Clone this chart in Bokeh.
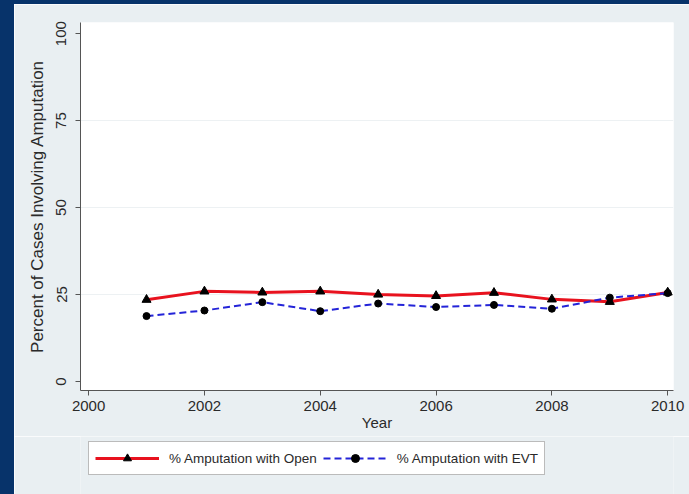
from bokeh.plotting import figure
from bokeh.models import (ColumnDataSource, Legend, LegendItem, Range1d,
                          FixedTicker, Spacer)
from bokeh.layouts import column, row
from bokeh.embed import file_html
from bokeh.resources import INLINE

# Yearly share of cases that involved amputation, by repair type
years = [2001, 2002, 2003, 2004, 2005, 2006, 2007, 2008, 2009, 2010]
pct_open = [23.5, 25.9, 25.6, 25.9, 25.0, 24.6, 25.5, 23.6, 22.9, 25.6]
pct_evt = [18.8, 20.4, 22.8, 20.2, 22.4, 21.4, 22.0, 20.9, 24.1, 25.4]

x_ticks = [2000, 2002, 2004, 2006, 2008, 2010]
y_ticks = [0, 25, 50, 75, 100]
series_labels = ["% Amputation with Open", "% Amputation with EVT"]

NAVY = "#07336A"
PANEL = "#E9EFF2"
FONT = "Liberation Sans"
TXT = "#2a2a2a"

OPEN_STYLE = dict(line_color="#E8121E", line_width=3)
EVT_STYLE = dict(line_color="#2424D8", line_width=2, line_dash="7 4")
OPEN_MARK = dict(marker="triangle", size=9, fill_color="black", line_color="black")
EVT_MARK = dict(marker="circle", size=7, fill_color="black", line_color="black")

src = ColumnDataSource(dict(year=years, open=pct_open, evt=pct_evt))

# ---- main chart -------------------------------------------------------
p = figure(width=675, height=432, output_backend="svg", toolbar_location=None,
           x_range=Range1d(1999.86, 2010.10), y_range=Range1d(-2.6, 103.2),
           min_border_left=66, min_border_right=16, min_border_top=18,
           min_border_bottom=46)
p.background_fill_color = "white"
p.border_fill_color = PANEL
p.outline_line_color = None

p.xgrid.grid_line_color = None
p.ygrid.grid_line_color = "#EDF1F3"
p.ygrid.ticker = FixedTicker(ticks=[25, 50, 75])

for ax in (p.xaxis[0], p.yaxis[0]):
    ax.axis_line_color = "#555555"
    ax.major_tick_line_color = "#555555"
    ax.minor_tick_line_color = None
    ax.major_tick_out = 5
    ax.major_tick_in = 0
    ax.major_label_text_font = FONT
    ax.major_label_text_font_size = "15px"
    ax.major_label_text_color = TXT
    ax.axis_label_text_font = FONT
    ax.axis_label_text_font_style = "normal"
    ax.axis_label_text_color = TXT

p.xaxis.ticker = FixedTicker(ticks=x_ticks)
p.xaxis.axis_label = "Year"
p.xaxis.axis_label_text_font_size = "15px"
p.xaxis.axis_label_standoff = 0
p.xaxis.major_label_standoff = 5

p.yaxis.ticker = FixedTicker(ticks=y_ticks)
p.yaxis.axis_label = "Percent of Cases Involving Amputation"
p.yaxis.axis_label_text_font_size = "17px"
p.yaxis.major_label_orientation = "vertical"
p.yaxis.major_label_standoff = 9
p.yaxis.axis_label_standoff = 7

p.line("year", "open", source=src, **OPEN_STYLE)
p.scatter("year", "open", source=src, **OPEN_MARK)
p.line("year", "evt", source=src, **EVT_STYLE)
p.scatter("year", "evt", source=src, **EVT_MARK)

# ---- legend strip under the chart ------------------------------------
# Its ranges keep the series themselves out of view; only the key shows.
lg = figure(width=675, height=58, output_backend="svg", toolbar_location=None,
            x_axis_type=None, y_axis_type=None,
            x_range=Range1d(0, 1), y_range=Range1d(0, 1),
            min_border_left=0, min_border_right=0, min_border_top=0,
            min_border_bottom=0)
lg.background_fill_color = PANEL
lg.border_fill_color = PANEL
lg.outline_line_color = None
lg.grid.grid_line_color = None

k_open_l = lg.line("year", "open", source=src, **OPEN_STYLE)
k_open_m = lg.scatter("year", "open", source=src, **OPEN_MARK)
k_evt_l = lg.line("year", "evt", source=src, **EVT_STYLE)
k_evt_m = lg.scatter("year", "evt", source=src, **EVT_MARK)

legend = Legend(items=[
    LegendItem(label=series_labels[0], renderers=[k_open_l, k_open_m]),
    LegendItem(label=series_labels[1], renderers=[k_evt_l, k_evt_m]),
], orientation="horizontal", location=(8, 19))
legend.label_text_font = FONT
legend.label_text_font_size = "13.5px"
legend.label_text_color = TXT
legend.glyph_width = 64
legend.glyph_height = 20
legend.spacing = 6
legend.padding = 6
legend.margin = 0
legend.label_standoff = 10
legend.border_line_color = "#777777"
legend.background_fill_color = "white"
legend.background_fill_alpha = 1
lg.add_layout(legend, "center")

top_strip = Spacer(width=689, height=4, styles={"background-color": NAVY})
left_strip = Spacer(width=14, height=490, styles={"background-color": NAVY})
page = column(top_strip,
              row(left_strip, column(p, lg, spacing=0), spacing=0),
              spacing=0)

open("out.html", "w").write(file_html(page, INLINE))
